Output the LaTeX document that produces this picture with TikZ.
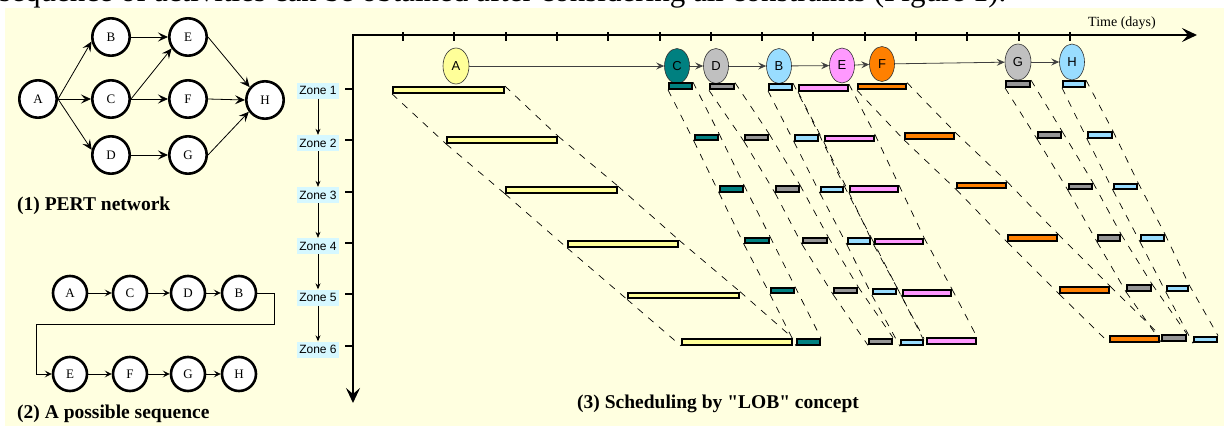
\documentclass[tikz,border=0pt]{standalone}
\usepackage{fontspec}
\setmainfont{Liberation Serif}[Ligatures=TeXOff]
\setsansfont{Liberation Sans}
\usetikzlibrary{arrows.meta,shapes.geometric}

\definecolor{paper}{RGB}{255,255,224}
\definecolor{zonebg}{RGB}{214,248,255}
\definecolor{actA}{RGB}{255,255,153}
\definecolor{actC}{RGB}{0,128,128}
\definecolor{actD}{RGB}{192,192,192}
\definecolor{barD}{RGB}{150,150,150}
\definecolor{actB}{RGB}{153,221,255}
\definecolor{actE}{RGB}{255,153,255}
\definecolor{actF}{RGB}{255,128,0}

\begin{document}
\begin{tikzpicture}[x=1pt,y=-1pt,
  pertnode/.style={circle,draw,line width=2.6pt,fill=white,minimum size=37.4pt,
    inner sep=0pt,font=\fontsize{13}{15}\selectfont},
  seqnode/.style={pertnode,minimum size=34pt},
  parrow/.style={line width=0.8pt,-{Stealth[length=10pt,width=9pt,inset=4pt]}},
  sarrow/.style={line width=0.8pt,-{Stealth[length=7pt,width=7pt,inset=3pt]}},
  act/.style={ellipse,draw=black!80,line width=0.6pt,minimum width=25pt,
    minimum height=35pt,inner sep=0pt,font=\sffamily\fontsize{13}{15}\selectfont},
  aarrow/.style={draw=black!75,line width=0.8pt,-{Stealth[length=8pt,width=7pt,inset=3pt]}},
  zone/.style={fill=zonebg,inner sep=1pt,minimum width=42pt,minimum height=16pt,
    font=\sffamily\fontsize{12}{14}\selectfont},
  zarrow/.style={line width=0.7pt,-{Stealth[length=6pt,width=5pt,inset=2pt]}},
  axis/.style={line width=2.5pt,{Stealth[length=15pt,width=14pt,inset=6pt]}-{Stealth[length=15pt,width=14pt,inset=6pt]}},
  tickmark/.style={line width=2pt},
  bar/.style={draw=black,line width=2.2pt,minimum height=5.5pt,inner sep=0pt},
  lob/.style={line width=0.7pt,dash pattern=on 7pt off 7pt},
  caption/.style={font=\bfseries\fontsize{19.5}{22}\selectfont,anchor=base west,inner sep=0pt}]

\useasboundingbox (0,0) rectangle (1224,426);
\fill[white] (0,0) rectangle (1224,426);
\fill[paper] (5,8) rectangle (1224,426);

% line of running text cut by the top edge
\begin{scope}
  \clip (0,0) rectangle (1224,8);
  \node[anchor=base west,inner sep=0pt,font=\fontsize{31}{33}\selectfont] (bodyline) at (-1,1)
    {sequence of activities can be obtained after considering all constraints (Figure 1).};
\end{scope}

% ---------- (1) PERT network ----------
\node[pertnode] (pA) at (38,99) {A};
\node[pertnode] (pB) at (111,37) {B};
\node[pertnode] (pC) at (111,99) {C};
\node[pertnode] (pD) at (111,155) {D};
\node[pertnode] (pE) at (188,37) {E};
\node[pertnode] (pF) at (188,99) {F};
\node[pertnode] (pG) at (188,155) {G};
\node[pertnode] (pH) at (265,100) {H};

\draw[parrow] (pA.east) -- (pB.193);
\draw[parrow] (pA.east) -- (pC.west);
\draw[parrow] (pA.east) -- (pD.165);
\draw[parrow] (pB.east) -- (pE.west);
\draw[parrow] (pC.east) -- (pE.215);
\draw[parrow] (pC.east) -- (pF.west);
\draw[parrow] (pD.east) -- (pG.west);
\draw[parrow] (pE.east) -- (pH.140);
\draw[parrow] (pF.east) -- (pH.west);
\draw[parrow] (pG.east) -- (pH.216);

\node[caption] (cap1) at (17,210) {(1) PERT network};

% ---------- (2) A possible sequence ----------
\node[seqnode] (sA) at (70,293) {A};
\node[seqnode] (sC) at (130,293) {C};
\node[seqnode] (sD) at (188,293) {D};
\node[seqnode] (sB) at (239,293) {B};
\node[seqnode] (sE) at (70,374) {E};
\node[seqnode] (sF) at (130,374) {F};
\node[seqnode] (sG) at (188,374) {G};
\node[seqnode] (sH) at (239,374) {H};

\draw[sarrow] (sA) -- (sC);
\draw[sarrow] (sC) -- (sD);
\draw[sarrow] (sD) -- (sB);
\draw[sarrow] (sB.east) -- ++(17,0) |- (36,324) |- (sE.west);
\draw[sarrow] (sE) -- (sF);
\draw[sarrow] (sF) -- (sG);
\draw[sarrow] (sG) -- (sH);

\node[caption] (cap2) at (17,418) {(2) A possible sequence};

% ---------- (3) LOB scheduling ----------
\coordinate (O) at (353,35);
\coordinate (tEnd) at (1197,35);
\coordinate (zEnd) at (353,403);
\draw[axis] (zEnd) -- (O) -- (tEnd);
\foreach \i in {0,...,13}
  \draw[tickmark] ({403+51.3*\i},32) -- ({403+51.3*\i},41);
\node[font=\fontsize{14}{16}\selectfont,inner sep=0pt] (tlabel) at (1122,23) {Time (days)};

% zones
\foreach \k/\ty/\ly in {1/89/90.5,2/140/143,3/192/195,4/243/246,5/294/297.5,6/346/349.5}{
  \draw[tickmark] (345,\ty) -- (353,\ty);
  \node[zone] (z\k) at (318,\ly) {Zone \k};
}
\foreach \k [evaluate=\k as \n using int(\k+1)] in {1,...,5}
  \draw[zarrow] (z\k.south) -- (z\n.north);

% activities
\node[act,fill=actA,minimum width=26pt,minimum height=36pt] (eA) at (456,66) {A};
\node[act,fill=actC] (eC) at (677,66) {C};
\node[act,fill=actD] (eD) at (716,66) {D};
\node[act,fill=actB] (eB) at (779,66) {B};
\node[act,fill=actE] (eE) at (842,65.5) {E};
\node[act,fill=actF] (eF) at (882,64) {F};
\node[act,fill=actD,minimum width=26pt,minimum height=36pt] (eG) at (1018,62) {G};
\node[act,fill=actB,minimum height=36pt] (eH) at (1072,62) {H};

\draw[aarrow] (eA) -- (eC);
\draw[aarrow] (eC) -- (eD);
\draw[aarrow] (eD) -- (eB);
\draw[aarrow] (eB) -- (eE);
\draw[aarrow] (eE) -- (eF);
\draw[aarrow] (eF) -- (eG);
\draw[aarrow] (eG) -- (eH);

% bars: start / end / centre line, one per zone
\foreach \a/\col/\lst in {
  A/actA/{392/505/90,446/558/140,505/618/190,567/679/244,627/740/295.5,681/793/342},
  C/actC/{668/693/86,694/719/137.5,719/744/189,744/770/240.5,770/795/290.5,796/821/342},
  D/barD/{709/735/86.5,744/769/137.5,775/800/189,802/828/240.5,833/858/290.5,868/893/341.5},
  B/actB/{768/793/87,794/819/138,820/844/189.5,847/871/241,872/897/291.5,900/924/342.5},
  E/actE/{798/849/88,824/875/138.5,849/899/189,874/924/241.5,902/952/293,926/977/341},
  F/actF/{857/907/86.5,904/955/136,956/1007/185.5,1007/1058/238,1059/1110/290,1109/1160/339},
  G/barD/{1005/1031/84,1037/1062/135,1068/1093/186.5,1097/1121/238,1126/1152/288,1161/1187/338},
  H/actB/{1062/1086/84,1087/1113/135,1113/1138/186.5,1140/1165/238,1166/1189/288.5,1193/1218/339.5}}{
  \foreach \xa/\xb/\yc [count=\k] in \lst
    \node[bar,fill=\col,minimum width={\xb-\xa-2.2}] (b\a\k) at ({(\xa+\xb)/2},\yc) {};
}

% progress lines between successive zones
\foreach \a in {A,C,D,B,E,F,G,H}{
  \foreach \k [evaluate=\k as \n using int(\k+1)] in {1,...,5}{
    \draw[lob] (b\a\k.north east) -- (b\a\n.north east);
    \draw[lob] (b\a\k.south west) -- (b\a\n.south west);
  }
}

\node[caption] (cap3) at (577,408) {(3) Scheduling by "LOB" concept};
\end{tikzpicture}
\end{document}
